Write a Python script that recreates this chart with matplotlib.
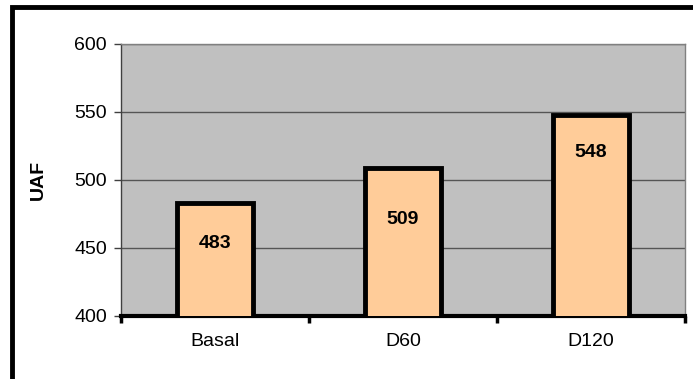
import matplotlib.pyplot as plt
import matplotlib.patches as mpatches
import numpy as np

plt.rcParams['font.family'] = ['Liberation Sans', 'DejaVu Sans']

categories = ["Basal", "D60", "D120"]
values = [483, 509, 548]
y_ticks = [400, 450, 500, 550, 600]

W, H = 693, 379
fig = plt.figure(figsize=(W / 100, H / 100), dpi=100)
ax = fig.add_axes([121 / W, 1 - 316 / H, (685 - 121) / W, (316 - 44) / H])
ax.set_facecolor("#C0C0C0")

x = np.arange(len(categories))
ax.bar(x, values, width=0.4, color="#FFCC99", edgecolor="black", linewidth=3.5, zorder=3)

label_offset = [30, 38, 28]
for xi, v, off in zip(x, values, label_offset):
    ax.text(xi, v - off, str(v), ha="center", va="center", fontsize=14,
            fontweight="bold", zorder=4)

ax.set_xlim(-0.5, len(categories) - 0.5)
ax.set_ylim(400, 600)
ax.set_yticks(y_ticks)
ax.set_yticklabels([str(t) for t in y_ticks], fontsize=14)
ax.yaxis.grid(True, color="#555555", linewidth=1.0, zorder=0)
ax.set_axisbelow(True)

ax.set_xticks(x)
ax.set_xticklabels(categories, fontsize=14)
ax.tick_params(axis="x", length=0, pad=12)
ax.set_xticks(np.arange(len(categories) + 1) - 0.5, minor=True)
ax.tick_params(axis="x", which="minor", length=5, width=2.5, color="black", direction="out")
ax.tick_params(axis="y", length=5, width=1, color="#404040", pad=5)

for s in ["top", "right"]:
    ax.spines[s].set_color("#808080")
    ax.spines[s].set_linewidth(1.0)
ax.spines["left"].set_color("#404040")
ax.spines["left"].set_linewidth(1.0)
ax.spines["bottom"].set_linewidth(3)
ax.spines["bottom"].set_color("black")

ax.set_ylabel("UAF", fontsize=14, fontweight="bold", labelpad=20)

border = mpatches.Rectangle((12 / W, -0.2), 1.2, 1 - 7 / H + 0.2, transform=fig.transFigure,
                            fill=False, edgecolor="black", linewidth=3.5)
fig.patches.append(border)

fig.savefig("out.png", dpi=100)
